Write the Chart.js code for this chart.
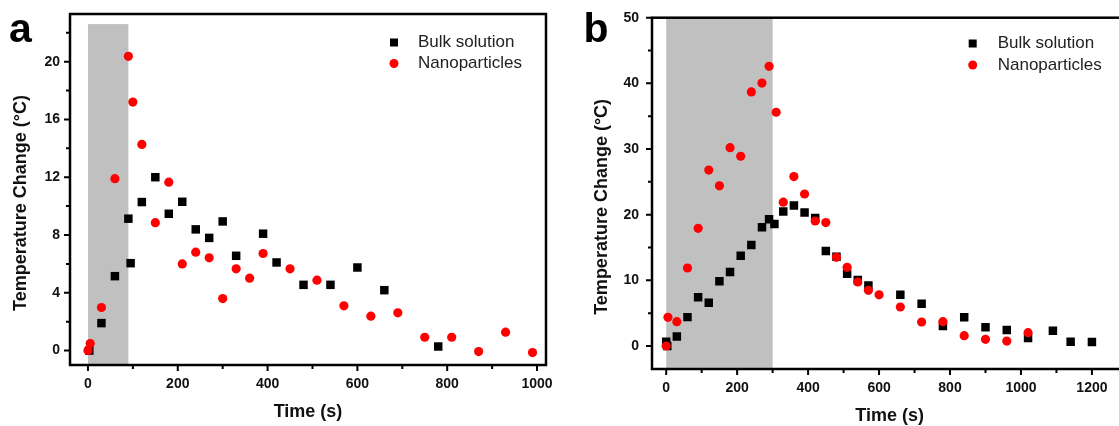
<!DOCTYPE html>
<html><head><meta charset="utf-8">
<script src="https://cdn.jsdelivr.net/npm/chart.js@4.4.0/dist/chart.umd.min.js"></script>
<style>
html,body{margin:0;padding:0;background:#fff;overflow:hidden;width:1119px;height:426px;}
#ca{position:absolute;left:0;top:0;}
#cb{position:absolute;left:570px;top:0;}
</style></head><body>
<canvas id="ca" width="560" height="426"></canvas>
<canvas id="cb" width="570" height="426"></canvas>
<script>
// ---------- Panel a data ----------
const bulkTimeA = [3,30,60,90,95,120,150,180,210,240,270,300,330,390,420,480,540,600,660,780];
const bulkTempA = [0,1.9,5.15,9.13,6.05,10.28,12.0,9.47,10.3,8.39,7.8,8.94,6.56,8.09,6.1,4.55,4.55,5.75,4.18,0.28];
const nanoTimeA = [0,5,30,60,90,100,120,150,180,210,240,270,300,330,360,390,450,510,570,630,690,750,810,870,930,990];
const nanoTempA = [0,0.48,2.98,11.9,20.37,17.2,14.27,8.85,11.66,6.0,6.81,6.42,3.6,5.66,5.01,6.72,5.66,4.87,3.1,2.38,2.61,0.92,0.92,-0.07,1.27,-0.14];
const xTicksA = [0,200,400,600,800,1000];
const xMinorA = [100,300,500,700,900];
const yTicksA = [0,4,8,12,16,20];
const yMinorA = [2,6,10,14,18,22];
const heatA = [0,90,22.6];   // laser on: start, end (s), band top (°C)

// ---------- Panel b data ----------
const bulkTimeB = [0,3,30,60,90,120,150,180,210,240,270,290,305,330,360,390,420,450,480,510,540,570,660,720,780,840,900,960,1020,1090,1140,1200];
const bulkTempB = [0.66,0,1.45,4.4,7.42,6.6,9.85,11.27,13.75,15.38,18.08,19.3,18.58,20.5,21.4,20.35,19.5,14.47,13.6,11.0,10.05,9.2,7.82,6.45,3.05,4.37,2.85,2.44,1.22,2.33,0.66,0.61];
const nanoTimeB = [0,5,30,60,90,120,150,180,210,240,270,290,310,330,360,390,420,450,480,510,540,570,600,660,720,780,840,900,960,1020];
const nanoTempB = [0,4.37,3.7,11.88,17.93,26.8,24.4,30.2,28.9,38.7,40.05,42.6,35.6,21.9,25.8,23.15,19.04,18.8,13.5,11.98,9.75,8.48,7.8,5.94,3.66,3.7,1.57,1.02,0.76,2.03];
const xTicksB = [0,200,400,600,800,1000,1200];
const xMinorB = [100,300,500,700,900,1100,1300];
const yTicksB = [0,10,20,30,40,50];
const yMinorB = [5,15,25,35,45];
const heatB = [0,300,null];

const seriesNames = ['Bulk solution','Nanoparticles'];
const xTitle = 'Time (s)';
const yTitle = 'Temperature Change (°C)';

const FONT = 'Arial, "Liberation Sans", sans-serif';

function pts(xs, ys){ return xs.map((x,i)=>({x:x, y:ys[i]})); }

const decor = {
  id:'decor',
  beforeDatasetsDraw(chart, args, o){
    const {ctx, chartArea:a, scales:{x, y}} = chart;
    ctx.save();
    ctx.beginPath(); ctx.rect(a.left, a.top, a.right-a.left, a.bottom-a.top); ctx.clip();
    const x0 = x.getPixelForValue(o.band[0]), x1 = x.getPixelForValue(o.band[1]);
    const yt = o.band[2]==null ? a.top : y.getPixelForValue(o.band[2]);
    ctx.fillStyle = '#c0c0c0';
    ctx.fillRect(x0, yt, x1-x0, a.bottom-yt);
    ctx.restore();
  },
  afterDraw(chart, args, o){
    const {ctx, chartArea:a, scales:{x, y}} = chart;
    ctx.save();
    ctx.strokeStyle = '#000';
    ctx.lineWidth = 2;
    ctx.beginPath();
    o.xMajor.forEach(v=>{const p=x.getPixelForValue(v); ctx.moveTo(p,a.bottom); ctx.lineTo(p,a.bottom+6);});
    o.xMinor.forEach(v=>{const p=x.getPixelForValue(v); ctx.moveTo(p,a.bottom); ctx.lineTo(p,a.bottom+4);});
    o.yMajor.forEach(v=>{const p=y.getPixelForValue(v); ctx.moveTo(a.left,p); ctx.lineTo(a.left-6,p);});
    o.yMinor.forEach(v=>{const p=y.getPixelForValue(v); ctx.moveTo(a.left,p); ctx.lineTo(a.left-4,p);});
    ctx.stroke();
    ctx.lineWidth = 2.5;
    ctx.strokeRect(a.left, a.top, a.right-a.left, a.bottom-a.top);
    // axis titles
    ctx.fillStyle = '#111';
    ctx.font = 'bold 18px ' + FONT;
    ctx.textAlign = 'center'; ctx.textBaseline = 'middle';
    ctx.fillText(xTitle, (a.left+a.right)/2, a.bottom + o.xTitleOff);
    ctx.save();
    ctx.translate(a.left - o.yTitleOff, (a.top+a.bottom)/2 + 13.5);
    ctx.rotate(-Math.PI/2);
    ctx.fillText(yTitle, 0, 0);
    ctx.restore();
    // legend
    ctx.font = '17px ' + FONT;
    ctx.textAlign = 'left';
    const L = o.legend;
    ctx.fillStyle = '#000';
    ctx.fillRect(L.mx-4, L.y0-4, 8, 8);
    ctx.fillStyle = '#222';
    ctx.fillText(seriesNames[0], L.tx, L.y0);
    ctx.fillStyle = '#ff0000';
    ctx.beginPath(); ctx.arc(L.mx, L.y1, 4.5, 0, Math.PI*2); ctx.fill();
    ctx.fillStyle = '#222';
    ctx.fillText(seriesNames[1], L.tx, L.y1);
    // panel letter
    ctx.fillStyle = '#000';
    ctx.font = 'bold 41px ' + FONT;
    ctx.textBaseline = 'alphabetic';
    ctx.fillText(o.letter, o.letterX, 42);
    ctx.restore();
  }
};

function makeChart(id, cfg){
  const tickFont = {family: FONT, size: 14, weight: 'bold'};
  return new Chart(document.getElementById(id), {
    type: 'scatter',
    data: {
      datasets: [
        {label: seriesNames[0], data: pts(cfg.bt, cfg.bv), pointStyle: 'rect', pointRadius: 6, pointHoverRadius: 6,
         backgroundColor: '#000', borderWidth: 0, order: 1},
        {label: seriesNames[1], data: pts(cfg.nt, cfg.nv), pointStyle: 'circle', pointRadius: 4.6, pointHoverRadius: 4.6,
         backgroundColor: '#ff0000', borderWidth: 0, order: 0}
      ]
    },
    options: {
      responsive: false, animation: false, events: [],
      layout: {padding: {top: cfg.padTop, right: cfg.padRight, left: 0, bottom: 0}},
      plugins: {
        legend: {display: false}, tooltip: {enabled: false},
        decor: {band: cfg.band, xMajor: cfg.xt, xMinor: cfg.xm, yMajor: cfg.yt, yMinor: cfg.ym,
                xTitleOff: 47, yTitleOff: cfg.yTitleOff, legend: cfg.legend, letter: cfg.letter, letterX: cfg.letterX}
      },
      scales: {
        x: {type: 'linear', min: cfg.xmin, max: cfg.xmax,
            afterBuildTicks: s => { s.ticks = cfg.xt.map(v=>({value:v})); },
            afterFit: s => { s.height = cfg.xH; s.paddingLeft = 0; s.paddingRight = 0; },
            grid: {display: false, drawTicks: false}, border: {display: false},
            ticks: {padding: 11, font: tickFont, color: '#111', maxRotation: 0, autoSkip: false, callback: v => String(v)}},
        y: {type: 'linear', min: cfg.ymin, max: cfg.ymax,
            afterBuildTicks: s => { s.ticks = cfg.yt.map(v=>({value:v})); },
            afterFit: s => { s.width = cfg.yW; s.paddingTop = 0; s.paddingBottom = 0; },
            grid: {display: false, drawTicks: false}, border: {display: false},
            ticks: {padding: cfg.yPad, font: tickFont, color: '#111', autoSkip: false, callback: v => String(v)}}
      }
    },
    plugins: [decor]
  });
}

makeChart('ca', {
  bt: bulkTimeA, bv: bulkTempA, nt: nanoTimeA, nv: nanoTempA,
  xt: xTicksA, xm: xMinorA, yt: yTicksA, ym: yMinorA, band: heatA,
  xmin: -40, xmax: 1020, ymin: -1, ymax: 23.3,
  padTop: 14, padRight: 14, xH: 61, yW: 70, yPad: 10, yTitleOff: 49,
  legend: {mx: 394, tx: 418, y0: 42.5, y1: 63.5}, letter: 'a', letterX: 9
});
makeChart('cb', {
  bt: bulkTimeB, bv: bulkTempB, nt: nanoTimeB, nv: nanoTempB,
  xt: xTicksB, xm: xMinorB, yt: yTicksB, ym: yMinorB, band: heatB,
  xmin: -40, xmax: 1300, ymin: -3.5, ymax: 50,
  padTop: 17.7, padRight: 12.6, xH: 57, yW: 82, yPad: 13, yTitleOff: 50,
  legend: {mx: 402.7, tx: 427.7, y0: 43.5, y1: 65}, letter: 'b', letterX: 13.5
});
</script>
</body></html>
